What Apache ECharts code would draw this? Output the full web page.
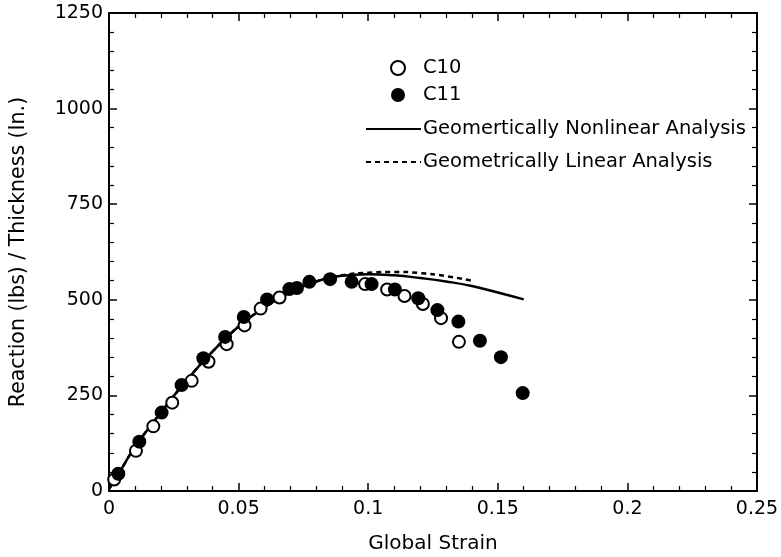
<!DOCTYPE html>
<html>
<head>
<meta charset="utf-8">
<script src="https://cdn.jsdelivr.net/npm/echarts@6/dist/echarts.min.js"></script>
<style>
html, body { margin: 0; padding: 0; background: #fff; }
#chart { width: 781px; height: 557px; }
</style>
</head>
<body>
<div id="chart"></div>
<script>
// test data: [global strain, reaction / thickness]
const c10 = [
  [0.002, 30], [0.0104, 105], [0.0171, 169], [0.0244, 231], [0.0319, 288],
  [0.0384, 338], [0.0454, 384], [0.0523, 433], [0.0585, 477], [0.0658, 506],
  [0.0988, 541], [0.1073, 527], [0.114, 510], [0.1211, 489], [0.1281, 452],
  [0.135, 390]
]
const c11 = [
  [0.0036, 45], [0.0117, 129], [0.0203, 205], [0.028, 277], [0.0364, 347],
  [0.0448, 403], [0.052, 455], [0.061, 501], [0.0696, 528], [0.0725, 531],
  [0.0773, 547], [0.0853, 554], [0.0936, 547], [0.1013, 541], [0.1103, 527],
  [0.1193, 504], [0.1267, 473], [0.1348, 443], [0.1431, 393], [0.1512, 350],
  [0.1596, 256]
]
const nonlinear = [
  [0, 5], [0.005, 60], [0.01, 115], [0.02, 205], [0.03, 290], [0.04, 365],
  [0.05, 430], [0.06, 480], [0.07, 520], [0.08, 548], [0.09, 563], [0.1, 567],
  [0.11, 564], [0.12, 557], [0.13, 548], [0.14, 536], [0.15, 519], [0.16, 501]
]
const linear = [
  [0, 5], [0.005, 60], [0.01, 115], [0.02, 205], [0.03, 290], [0.04, 365],
  [0.05, 430], [0.06, 480], [0.07, 520], [0.08, 548], [0.09, 564], [0.1, 571],
  [0.11, 573], [0.12, 570], [0.13, 562], [0.14, 550]
]
const names = ['C10', 'C11', 'Geomertically Nonlinear Analysis', 'Geometrically Linear Analysis']

const FONT = 'DejaVu Sans, Verdana, sans-serif'
const tickStyle = { show: true, inside: true, length: 8, lineStyle: { color: '#000', width: 1.5 } }
const minorStyle = { show: true, splitNumber: 5, length: 5, lineStyle: { color: '#000', width: 1.2 } }
const lineStyleAxis = { show: true, onZero: false, lineStyle: { color: '#000', width: 2 } }

const chart = echarts.init(document.getElementById('chart'))
chart.setOption({
  animation: false,
  backgroundColor: '#fff',
  textStyle: { fontFamily: FONT },
  grid: { left: 109, right: 24, top: 13, bottom: 66, outerBoundsMode: 'none' },
  legend: [
    {
      data: names.slice(0, 2),
      orient: 'vertical',
      left: 385,
      top: 53,
      itemWidth: 14,
      itemHeight: 14,
      itemGap: 7,
      textStyle: { fontSize: 19.5, color: '#000', fontFamily: FONT, padding: [0, 0, 0, 13] }
    },
    {
      data: names.slice(2),
      orient: 'vertical',
      left: 360,
      top: 114,
      itemWidth: 55,
      itemHeight: 14,
      itemGap: 13,
      itemStyle: { opacity: 0 },
      textStyle: { fontSize: 19.5, color: '#000', fontFamily: FONT, padding: [0, 0, 0, -3] }
    }
  ],
  xAxis: [
    {
      type: 'value',
      min: 0,
      max: 0.25,
      interval: 0.05,
      name: 'Global Strain',
      nameLocation: 'middle',
      nameGap: 43,
      nameTextStyle: { fontSize: 20, color: '#000' },
      axisLine: lineStyleAxis,
      axisTick: tickStyle,
      minorTick: minorStyle,
      splitLine: { show: false },
      axisLabel: { fontSize: 19, color: '#000', margin: 9 }
    },
    {
      type: 'value',
      position: 'top',
      min: 0,
      max: 0.25,
      interval: 0.05,
      axisLine: lineStyleAxis,
      axisTick: tickStyle,
      minorTick: minorStyle,
      splitLine: { show: false },
      axisLabel: { show: false }
    }
  ],
  yAxis: [
    {
      type: 'value',
      min: 0,
      max: 1250,
      interval: 250,
      name: 'Reaction (lbs) / Thickness (In.)',
      nameLocation: 'middle',
      nameGap: 80,
      nameTextStyle: { fontSize: 20.5, color: '#000' },
      axisLine: lineStyleAxis,
      axisTick: tickStyle,
      minorTick: minorStyle,
      splitLine: { show: false },
      axisLabel: { fontSize: 19, color: '#000', margin: 6, formatter: v => String(v) }
    },
    {
      type: 'value',
      position: 'right',
      min: 0,
      max: 1250,
      interval: 250,
      axisLine: lineStyleAxis,
      axisTick: tickStyle,
      minorTick: minorStyle,
      splitLine: { show: false },
      axisLabel: { show: false }
    }
  ],
  series: [
    {
      name: names[2],
      type: 'line',
      data: nonlinear,
      symbol: 'none',
      smooth: true,
      z: 2,
      lineStyle: { color: '#000', width: 2.5 },
      itemStyle: { color: '#000' }
    },
    {
      name: names[3],
      type: 'line',
      data: linear,
      symbol: 'none',
      smooth: true,
      z: 2,
      lineStyle: { color: '#000', width: 2.5, type: [5, 4] },
      itemStyle: { color: '#000' }
    },
    {
      name: names[0],
      type: 'scatter',
      data: c10,
      symbol: 'circle',
      symbolSize: 12,
      z: 3,
      itemStyle: { color: '#fff', borderColor: '#000', borderWidth: 2, opacity: 1 }
    },
    {
      name: names[1],
      type: 'scatter',
      data: c11,
      symbol: 'circle',
      symbolSize: 14,
      z: 4,
      itemStyle: { color: '#000', opacity: 1 }
    }
  ]
})
</script>
</body>
</html>
